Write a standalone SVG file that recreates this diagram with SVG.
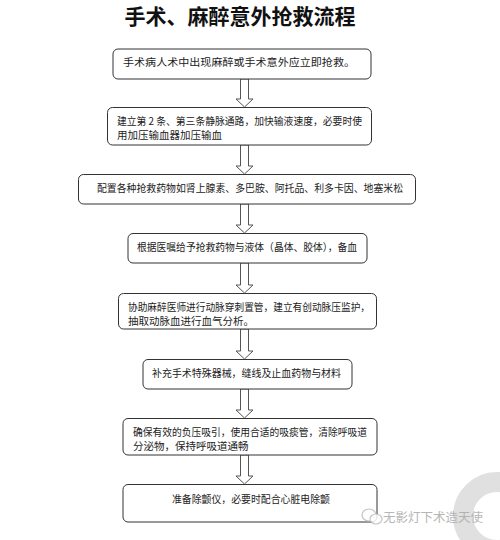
<svg xmlns="http://www.w3.org/2000/svg" width="500" height="540" viewBox="0 0 500 540">
<style>
.box{fill:#fff;stroke:#333;stroke-width:1}
.t{font-family:"Noto Sans CJK SC","Noto Sans",sans-serif;font-size:10.5px;fill:#222}
.ar{fill:#fff;stroke:#555;stroke-width:1}
.title{font-family:"Noto Sans CJK SC","Noto Sans",sans-serif;font-size:21px;font-weight:bold;fill:#111}
</style>
<rect width="500" height="540" fill="#fff"/>
<circle cx="497" cy="516" r="34" fill="none" stroke="#e0e0e0" stroke-width="20"/>
<text class="title" x="240" y="24" text-anchor="middle">手术、麻醉意外抢救流程</text>
<g id="connectors">
<path class="ar" d="M240.5,79 V99 H236 L244.5,107 L253,99 H248.5 V79 Z"/>
<path class="ar" d="M240.5,145 V166 H236 L244.5,174 L253,166 H248.5 V145 Z"/>
<path class="ar" d="M240.5,204 V225 H236 L244.5,233 L253,225 H248.5 V204 Z"/>
<path class="ar" d="M240.5,263 V285 H236 L244.5,293 L253,285 H248.5 V263 Z"/>
<path class="ar" d="M240.5,329 V351 H236 L244.5,359 L253,351 H248.5 V329 Z"/>
<path class="ar" d="M240.5,389 V410 H236 L244.5,418 L253,410 H248.5 V389 Z"/>
<path class="ar" d="M240.5,455 V476 H236 L244.5,484 L253,476 H248.5 V455 Z"/>
</g>
<g id="n1"><rect class="box" x="113" y="49" width="258" height="30" rx="5"/>
<text class="t" x="123" y="66" textLength="232" lengthAdjust="spacingAndGlyphs">手术病人术中出现麻醉或手术意外应立即抢救。</text></g>
<g id="n2"><rect class="box" x="107.5" y="107.5" width="264" height="37.5" rx="5"/>
<text class="t" x="117" y="125" textLength="245" lengthAdjust="spacingAndGlyphs">建立第 2 条、第三条静脉通路，加快输液速度，必要时使</text>
<text class="t" x="117" y="139">用加压输血器加压输血</text></g>
<g id="n3"><rect class="box" x="78.5" y="174.5" width="337" height="29.5" rx="5"/>
<text class="t" x="97" y="192" textLength="306" lengthAdjust="spacingAndGlyphs">配置各种抢救药物如肾上腺素、多巴胺、阿托品、利多卡因、地塞米松</text></g>
<g id="n4"><rect class="box" x="128" y="233.5" width="239" height="29.5" rx="5"/>
<text class="t" x="137" y="250.5" textLength="220" lengthAdjust="spacingAndGlyphs">根据医嘱给予抢救药物与液体（晶体、胶体），备血</text></g>
<g id="n5"><rect class="box" x="118.5" y="293.5" width="258" height="35.5" rx="5"/>
<text class="t" x="128" y="310.5" textLength="242" lengthAdjust="spacingAndGlyphs">协助麻醉医师进行动脉穿刺置管，建立有创动脉压监护，</text>
<text class="t" x="128" y="324.5">抽取动脉血进行血气分析。</text></g>
<g id="n6"><rect class="box" x="143" y="359.5" width="209" height="29.5" rx="5"/>
<text class="t" x="152" y="377" textLength="189" lengthAdjust="spacingAndGlyphs">补充手术特殊器械，缝线及止血药物与材料</text></g>
<g id="n7"><rect class="box" x="123" y="418.5" width="254" height="36.5" rx="5"/>
<text class="t" x="133" y="436" textLength="234" lengthAdjust="spacingAndGlyphs">确保有效的负压吸引，使用合适的吸痰管，清除呼吸道</text>
<text class="t" x="133" y="450">分泌物，保持呼吸道通畅</text></g>
<g id="n8"><rect class="box" x="123" y="484.5" width="254" height="37.5" rx="5"/>
<text class="t" x="172" y="503" textLength="158" lengthAdjust="spacingAndGlyphs">准备除颤仪，必要时配合心脏电除颤</text></g>
<g id="watermark" opacity="0.85">
<ellipse cx="369" cy="515" rx="7" ry="6" fill="none" stroke="#bbb" stroke-width="1.2"/>
<ellipse cx="376" cy="519" rx="6" ry="5" fill="#fff" stroke="#bbb" stroke-width="1.2"/>
<text x="383" y="522" font-family="'Noto Sans CJK SC',sans-serif" font-size="12.5" fill="#aaa" textLength="100" lengthAdjust="spacingAndGlyphs">无影灯下术造天使</text>
</g>
</svg>
